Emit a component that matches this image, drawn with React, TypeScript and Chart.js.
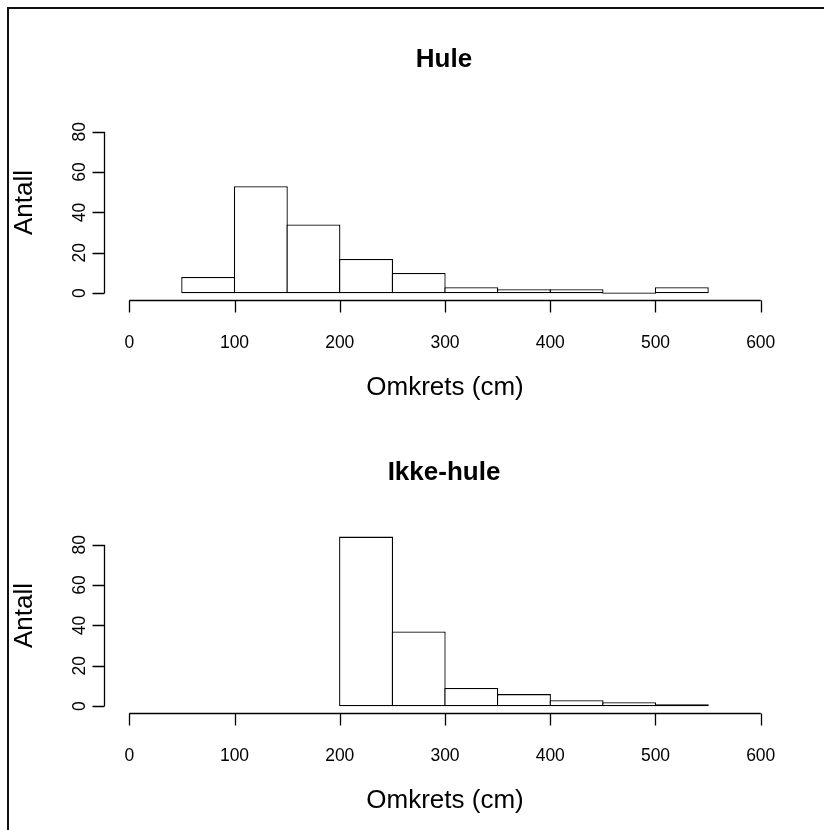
import React, { useEffect, useRef } from "react";
import { Chart, registerables } from "chart.js";
Chart.register(...registerables);

const binWidth = 50;
const huleBinStarts = [50, 100, 150, 200, 250, 300, 350, 400, 450, 500];
const huleCounts = [8, 53, 34, 17, 10, 3, 2, 2, 0, 3];
const ikkeBinStarts = [200, 250, 300, 350, 400, 450, 500];
const ikkeCounts = [84, 37, 9, 6, 3, 2, 1];
const xTicks = [0, 100, 200, 300, 400, 500, 600];
const yTicks = [0, 20, 40, 60, 80];
const xLim = [0, 600];
const yLim = [0, 84];
const xLabel = "Omkrets (cm)";
const yLabel = "Antall";
const panelTitles = ["Hule", "Ikke-hule"];

const FONT = '"Liberation Sans", Arial, Helvetica, sans-serif';
const W = 824;
const H = 415;
const LW = 1.3;

const rAxesPlugin = {
  id: "rAxes",
  afterDraw(chart: any, _args: any, opts: any) {
    const ctx = chart.ctx as CanvasRenderingContext2D;
    const xs = chart.scales.x;
    const ys = chart.scales.y;
    const area = chart.chartArea;
    ctx.save();
    ctx.strokeStyle = "#000";
    ctx.fillStyle = "#000";
    ctx.lineWidth = LW;
    // x axis
    const yAx = area.bottom + 0.5;
    ctx.beginPath();
    ctx.moveTo(xs.getPixelForValue(xTicks[0]), yAx);
    ctx.lineTo(xs.getPixelForValue(xTicks[xTicks.length - 1]), yAx);
    for (const t of xTicks) {
      const px = Math.round(xs.getPixelForValue(t)) + 0.5;
      ctx.moveTo(px, yAx);
      ctx.lineTo(px, yAx + 12);
    }
    ctx.stroke();
    // y axis
    const xAx = area.left + 0.5;
    ctx.beginPath();
    ctx.moveTo(xAx, ys.getPixelForValue(yTicks[0]));
    ctx.lineTo(xAx, ys.getPixelForValue(yTicks[yTicks.length - 1]));
    for (const t of yTicks) {
      const py = Math.round(ys.getPixelForValue(t)) + 0.5;
      ctx.moveTo(xAx, py);
      ctx.lineTo(xAx - 12, py);
    }
    ctx.stroke();
    // x tick labels
    ctx.font = `17.5px ${FONT}`;
    ctx.textAlign = "center";
    ctx.textBaseline = "alphabetic";
    for (const t of xTicks) {
      ctx.fillText(String(t), xs.getPixelForValue(t), yAx + 47);
    }
    // y tick labels (rotated)
    for (const t of yTicks) {
      ctx.save();
      ctx.translate(xAx - 20, ys.getPixelForValue(t));
      ctx.rotate(-Math.PI / 2);
      ctx.fillText(String(t), 0, 0);
      ctx.restore();
    }
    // x label
    ctx.font = `26px ${FONT}`;
    const cx = (area.left + area.right) / 2;
    ctx.fillText(xLabel, cx, yAx + 94);
    // y label
    ctx.save();
    ctx.translate(32, 202.5);
    ctx.rotate(-Math.PI / 2);
    ctx.fillText(yLabel, 0, 0);
    ctx.restore();
    // title
    ctx.font = `bold 26px ${FONT}`;
    ctx.fillText(opts.title || "", cx - 1, 67.3);
    ctx.restore();
  },
};

function Histogram({ starts, counts, title }: { starts: number[]; counts: number[]; title: string }) {
  const ref = useRef<HTMLCanvasElement | null>(null);
  useEffect(() => {
    if (!ref.current) return;
    const xPad = (xLim[1] - xLim[0]) * 0.04;
    const yPad = (yLim[1] - yLim[0]) * 0.04;
    const data = starts.map((s, i) => ({ x: s + binWidth / 2, y: counts[i] }));
    const chart = new Chart(ref.current, {
      type: "bar",
      data: {
        datasets: [
          {
            data,
            backgroundColor: "#ffffff",
            borderColor: "#000000",
            borderWidth: LW,
            borderSkipped: false,
            categoryPercentage: 1,
            barPercentage: 1.025,
            minBarLength: LW,
          } as any,
        ],
      },
      options: {
        responsive: false,
        animation: false,
        devicePixelRatio: 1,
        layout: { padding: { left: 104, right: W - 786, top: 116.8, bottom: H - 300 } },
        plugins: {
          legend: { display: false },
          tooltip: { enabled: false },
          title: { display: false },
          rAxes: { title },
        } as any,
        scales: {
          x: {
            type: "linear",
            display: false,
            offset: false,
            min: xLim[0] - xPad,
            max: xLim[1] + xPad,
            ticks: { stepSize: 100, includeBounds: false },
            grid: { display: false, offset: false },
          },
          y: {
            type: "linear",
            display: false,
            min: yLim[0] - yPad,
            max: yLim[1] + yPad,
            grid: { display: false },
          },
        },
      },
      plugins: [rAxesPlugin],
    });
    return () => chart.destroy();
  }, [starts, counts, title]);
  return <canvas ref={ref} width={W} height={H} style={{ display: "block", width: W, height: H }} />;
}

export default function App() {
  return (
    <div
      style={{
        position: "fixed",
        left: 0,
        top: 0,
        width: 824,
        height: 830,
        overflow: "hidden",
        background: "#fff",
      }}
    >
      <div style={{ position: "absolute", left: 0, top: 0 }}>
        <Histogram starts={huleBinStarts} counts={huleCounts} title={panelTitles[0]} />
      </div>
      <div style={{ position: "absolute", left: 0, top: 413 }}>
        <Histogram starts={ikkeBinStarts} counts={ikkeCounts} title={panelTitles[1]} />
      </div>
      <div
        style={{
          position: "absolute",
          left: 7,
          top: 7,
          width: 900,
          height: 900,
          borderLeft: "2px solid #111",
          borderTop: "2px solid #111",
          pointerEvents: "none",
        }}
      />
    </div>
  );
}
